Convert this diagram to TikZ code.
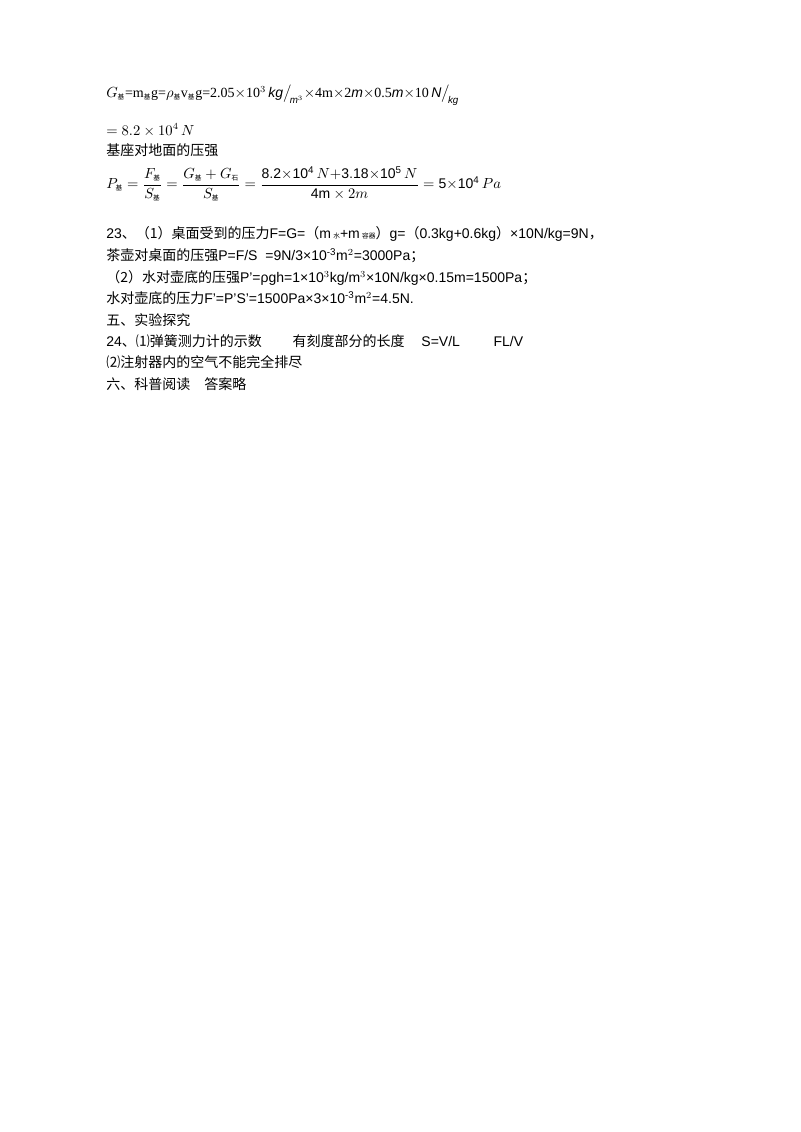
\documentclass[tikz,border=0pt]{standalone}
\usepackage{amsmath}
\usepackage{fontspec}
\setmainfont{Liberation Sans}
\newfontfamily\cjk{Noto Sans CJK SC}
\newfontfamily\serif{Liberation Serif}
\newcommand{\zh}[1]{{\cjk #1}}
\newcommand{\zsub}[1]{\mbox{\tiny\cjk #1}}
\begin{document}
\begin{tikzpicture}[x=0.75pt,y=-0.75pt,
  line/.style={anchor=west,inner sep=0pt,font=\fontsize{10.5}{12}\selectfont}]
  \useasboundingbox (0,0) rectangle (800,1132);

  % first answer (formulas)
  \node[line] (g1) at (106,95) {\serif $G_{\zsub{基}}$=m$_{\zsub{基}}$g=$\rho_{\zsub{基}}$v$_{\zsub{基}}$g=2.05$\times$10$^3$\,$\mathit{kg}\big/_{\!\mathit{m}^3}$$\times$4m$\times$2$\mathit{m}$$\times$0.5$\mathit{m}$$\times$10\,$\mathit{N}\big/_{\!\mathit{kg}}$};
  \node[line] (g2) at (106,130) {\serif $=8.2\times10^4\,N$};
  \node[line] (g3) at (106,150) {\zh{基座对地面的压强}};
  \node[line] (g4) at (106,184) {\serif $P_{\zsub{基}}=\dfrac{F_{\zsub{基}}}{S_{\zsub{基}}}=\dfrac{G_{\zsub{基}}+G_{\zsub{石}}}{S_{\zsub{基}}}=\dfrac{\mathrm{8.2{\times}10^4}\,N\mathrm{+3.18{\times}10^5}\,N}{\mathrm{4m}\times2m}=\mathrm{5{\times}10^4}\,Pa$};

  % question 23
  \node[line] (q1) at (106,234) {23\zh{、（1）桌面受到的压力}F=G=\zh{（}m\,\zsub{水}+m\,\zsub{容器}\zh{）}g=\zh{（}0.3kg+0.6kg\zh{）}×10N/kg=9N\zh{，}};
  \node[line] (q2) at (106,256) {\zh{茶壶对桌面的压强}P=F/S\ \ =9N/3×10$^{\text{-3}}$m$^2$=3000Pa\zh{；}};
  \node[line] (q3) at (106,278) {\zh{（2）水对壶底的压强}P'=ρgh=1×10$^3$kg/m$^3$×10N/kg×0.15m=1500Pa\zh{；}};
  \node[line] (q4) at (106,298) {\zh{水对壶底的压力}F'=P'S'=1500Pa×3×10$^{\text{-3}}$m$^2$=4.5N.};

  % section 5 and 6
  \node[line] (s5) at (106,320) {\zh{五、实验探究}};
  \node[line] (a1) at (106,341) {24\zh{、⑴弹簧测力计的示数\hspace{2.2em}有刻度部分的长度}\hspace{1.2em}S=V/L\hspace{2.4em}FL/V};
  \node[line] (a2) at (106,362) {\zh{⑵注射器内的空气不能完全排尽}};
  \node[line] (s6) at (106,384) {\zh{六、科普阅读\hspace{1em}答案略}};
\end{tikzpicture}
\end{document}
